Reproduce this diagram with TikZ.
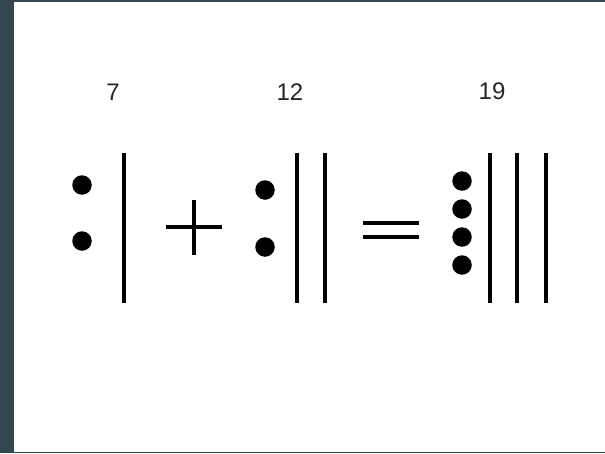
\documentclass[tikz,border=0pt]{standalone}
\usepackage{fontspec}
\setmainfont{Liberation Sans}
\usepackage{xcolor}
\usetikzlibrary{positioning}
\definecolor{slate}{RGB}{52,70,79}

\begin{document}
\begin{tikzpicture}[
    x=1pt, y=-1pt,
    numlabel/.style={
        font=\fontsize{24}{28}\selectfont,
        text=black!85,
        inner sep=0pt,
        anchor=center
    },
    dot/.style={
        circle,
        fill=black,
        inner sep=0pt,
        minimum size=19.5pt
    },
    tally/.style={line width=3.8pt},
    opline/.style={line width=3.2pt}
]

% Frame
\fill[slate] (0,0) rectangle (605,453);
\fill[white] (14,1.5) rectangle (605,451.5);
\useasboundingbox (0,0) rectangle (605,453);

% Numbers
\node[numlabel] (n7) at (113,92) {7};
\node[numlabel] (n12) at (290,92) {12};
\node[numlabel] (n19) at (492,91) {19};

% 7 = two dots and one bar
\node[dot] (a1) at (82,185) {};
\node[dot] (a2) at (82,241) {};
\draw[tally] (124,153) -- (124,303);

% Plus sign
\draw[opline] (166,227) -- (222,227);
\draw[opline] (194,200) -- (194,255);

% 12 = two dots and two bars
\node[dot] (b1) at (265,190) {};
\node[dot] (b2) at (265,247) {};
\draw[tally] (297,153) -- (297,303);
\draw[tally] (325,153) -- (325,303);

% Equals sign
\draw[opline] (363,223) -- (419,223);
\draw[opline] (363,237) -- (419,237);

% 19 = four dots and three bars
\foreach \i/\y in {1/181, 2/209, 3/237, 4/265}
    \node[dot] (c\i) at (462,\y) {};
\foreach \x in {490, 517, 546}
    \draw[tally] (\x,153) -- (\x,303);

\end{tikzpicture}
\end{document}
